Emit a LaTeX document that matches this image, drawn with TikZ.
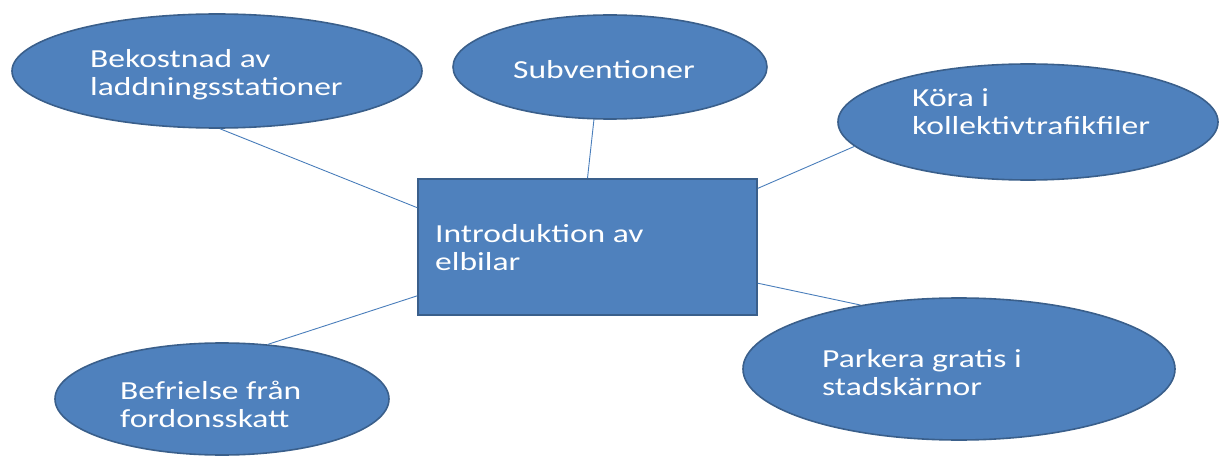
\documentclass[tikz,border=0pt]{standalone}
\usepackage{fontspec}
\setmainfont{Carlito}[FakeStretch=1.29]
\usetikzlibrary{shapes.geometric}
\definecolor{shapefill}{HTML}{4F81BD}
\definecolor{shapeedge}{HTML}{3A5F8B}
\definecolor{linkcol}{HTML}{4A7EBB}
\tikzset{
  bubble/.style={ellipse, draw=shapeedge, fill=shapefill, line width=1.6pt, inner sep=0pt},
  mainbox/.style={rectangle, draw=shapeedge, fill=shapefill, line width=1.6pt, inner sep=0pt},
  lbl/.style={anchor=west, inner sep=0pt, text=white, align=left, font=\fontsize{26}{28}\selectfont},
  link/.style={draw=linkcol, line width=0.9pt}
}
\begin{document}
\begin{tikzpicture}[x=1pt,y=1pt]
\useasboundingbox (0,0) rectangle (1219,456);
% shapes
\node[bubble, minimum width=410pt, minimum height=114pt] (bek) at (217,385) {};
\node[bubble, minimum width=314pt, minimum height=104pt] (sub) at (610,389) {};
\node[bubble, minimum width=380pt, minimum height=116pt] (kor) at (1028,334) {};
\node[bubble, minimum width=432pt, minimum height=142pt] (park) at (959,87) {};
\node[bubble, minimum width=334pt, minimum height=112pt] (bef) at (222,57) {};
\node[mainbox, minimum width=339pt, minimum height=136pt] (intro) at (587.5,209) {};
% connectors
\draw[link] (bek.-87) -- (intro.167.4);
\draw[link] (sub.-107) -- (intro.north);
\draw[link] (intro.19.8) -- (kor.-172.3);
\draw[link] (intro.-12.6) -- (park.147.6);
\draw[link] (bef.50.6) -- (intro.-164.8);
% texts
\node[lbl] (bekT) at (90,381) {Bekostnad av\\laddningsstationer};
\node[lbl] (subT) at (513,386) {Subventioner};
\node[lbl] (korT) at (912,344) {Köra i\\kollektivtrafikfiler};
\node[lbl] (parkT) at (822,83) {Parkera gratis i\\stadskärnor};
\node[lbl] (befT) at (120,51.5) {Befrielse från\\fordonsskatt};
\node[lbl] (introT) at (435,208.5) {Introduktion av\\elbilar};
\end{tikzpicture}
\end{document}
